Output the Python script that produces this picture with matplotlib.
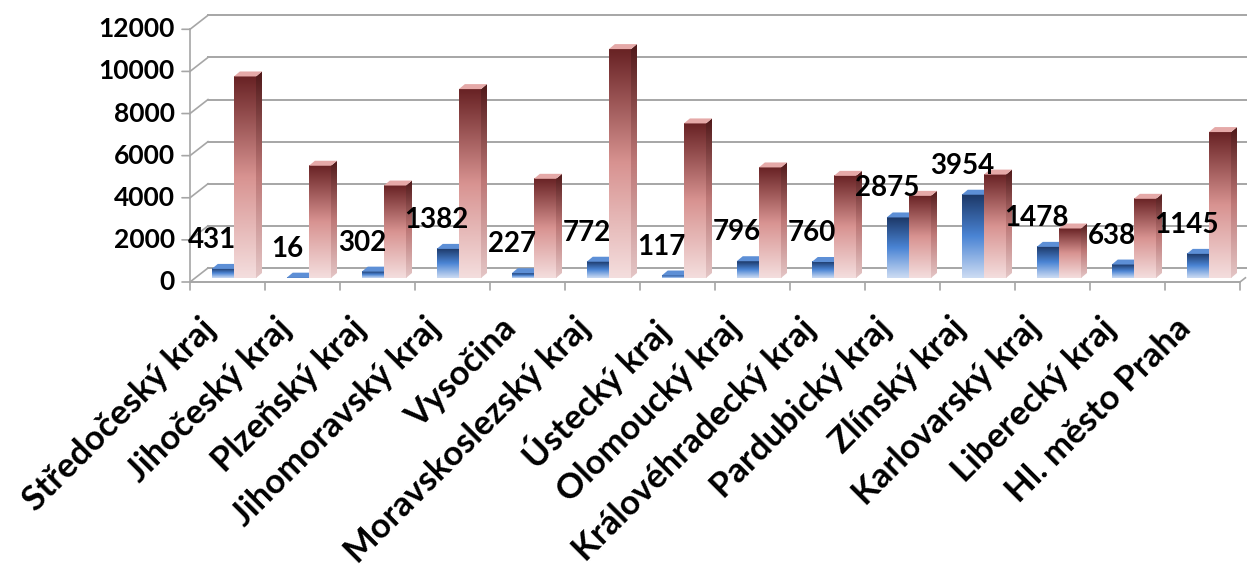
import numpy as np
import matplotlib
matplotlib.use('Agg')
import matplotlib.pyplot as plt
from matplotlib.colors import LinearSegmentedColormap
from matplotlib.patches import Polygon

# data
kraje = ['Středočeský kraj', 'Jihočeský kraj', 'Plzeňský kraj', 'Jihomoravský kraj',
         'Vysočina', 'Moravskoslezský kraj', 'Ústecký kraj', 'Olomoucký kraj',
         'Královéhradecký kraj', 'Pardubický kraj', 'Zlínský kraj', 'Karlovarský kraj',
         'Liberecký kraj', 'Hl. město Praha']
modra = [431, 16, 302, 1382, 227, 772, 117, 796, 760, 2875, 3954, 1478, 638, 1145]
cervena = [9570, 5330, 4390, 8970, 4710, 10870, 7340, 5250, 4850, 3900, 4910, 2350, 3760, 6930]
osa_y = [0, 2000, 4000, 6000, 8000, 10000, 12000]

plt.rcParams['font.family'] = ['Lato', 'DejaVu Sans']
plt.rcParams['font.weight'] = 'bold'

fig = plt.figure(figsize=(12.47, 5.71), dpi=100)
ax = fig.add_axes([190/1247, 289/571, 1050/1247, 252.7/571])

# pixel -> data units
px_x = 14 / 1050
px_y = 12000 / 252.7
stena_dx, stena_dy = 18*px_x, 14*px_y   # back wall offset
base = 4*px_y                            # bars stand a bit behind the front edge
hl_dx, hl_dy = 6*px_x, 5*px_y            # bar depth
seda = '#a6a6a6'

# back wall grid + diagonals + front axis
for v in osa_y:
    ax.plot([stena_dx, 14.2], [v+stena_dy, v+stena_dy], color=seda, lw=1.4, zorder=1, clip_on=False)
    ax.plot([0, stena_dx], [v, v+stena_dy], color=seda, lw=1.2, zorder=1, clip_on=False)
    ax.annotate('', xy=(0, v), xytext=(-8, 0), textcoords='offset pixels',
                arrowprops=dict(arrowstyle='-', color=seda, lw=1.2, shrinkA=0, shrinkB=0))
    ax.annotate(str(v), xy=(0, v), xytext=(-15, 0), textcoords='offset pixels',
                ha='right', va='center', fontsize=19, fontweight='bold')
ax.plot([0, 0], [0, 12000], color=seda, lw=1.2, zorder=1, clip_on=False)
ax.plot([0, 14], [0, 0], color=seda, lw=1.4, zorder=1, clip_on=False)
ax.plot([14, 14+stena_dx*0.3], [0, stena_dy*0.3], color=seda, lw=1.2, zorder=1, clip_on=False)
for i in range(15):
    ax.annotate('', xy=(i, 0), xytext=(0, -8), textcoords='offset pixels',
                arrowprops=dict(arrowstyle='-', color=seda, lw=1.2, shrinkA=0, shrinkB=0))

cm_modra = LinearSegmentedColormap.from_list('m', ['#cddcf3', '#4a84d4', '#1c3766'])
cm_modra_bok = LinearSegmentedColormap.from_list('mb', ['#b3c6e3', '#3a6cb3', '#15294d'])
cm_cervena = LinearSegmentedColormap.from_list('c', ['#f4dede', '#d89391', '#682224'])
cm_cervena_bok = LinearSegmentedColormap.from_list('cb', ['#e4c6c6', '#bd7776', '#4f1819'])
grad = np.linspace(0, 1, 256).reshape(-1, 1)

def sloupec(x0, x1, v, cm, cm_bok, top_barva, z):
    y0, y1 = base, base + v
    ax.imshow(grad, extent=[x0, x1, y0, y1], aspect='auto', origin='lower',
              cmap=cm, zorder=z, interpolation='bicubic')
    bok = Polygon([(x1, y0), (x1+hl_dx, y0+hl_dy), (x1+hl_dx, y1+hl_dy), (x1, y1)],
                  closed=True, facecolor='none', edgecolor='none')
    ax.add_patch(bok)
    im = ax.imshow(grad, extent=[x1, x1+hl_dx, y0, y1+hl_dy], aspect='auto', origin='lower',
                   cmap=cm_bok, zorder=z, interpolation='bicubic')
    im.set_clip_path(bok)
    ax.add_patch(Polygon([(x0, y1), (x1, y1), (x1+hl_dx, y1+hl_dy), (x0+hl_dx, y1+hl_dy)],
                         closed=True, facecolor=top_barva, edgecolor='none', zorder=z+0.1))

w = 0.295
for i in range(len(kraje)):
    xb = i + 0.29
    sloupec(xb, xb+w, modra[i], cm_modra, cm_modra_bok, '#5d8fd6', 2 + i)
    sloupec(xb+w, xb+2*w, cervena[i], cm_cervena, cm_cervena_bok, '#e5a9a8', 2.5 + i)
    ax.annotate(str(modra[i]), xy=(xb + w/2, base + modra[i]), xytext=(-11, 29),
                textcoords='offset pixels', ha='center', va='center',
                fontsize=20, fontweight='bold', zorder=40)
    ax.annotate(kraje[i], xy=(i + 0.5, 0), xytext=(-28, -30), textcoords='offset pixels',
                ha='right', va='top', rotation=45, rotation_mode='anchor',
                fontsize=25, fontweight='bold')

ax.set_xlim(0, 14)
ax.set_ylim(0, 12000)
ax.axis('off')

fig.savefig('out.png', dpi=100)
